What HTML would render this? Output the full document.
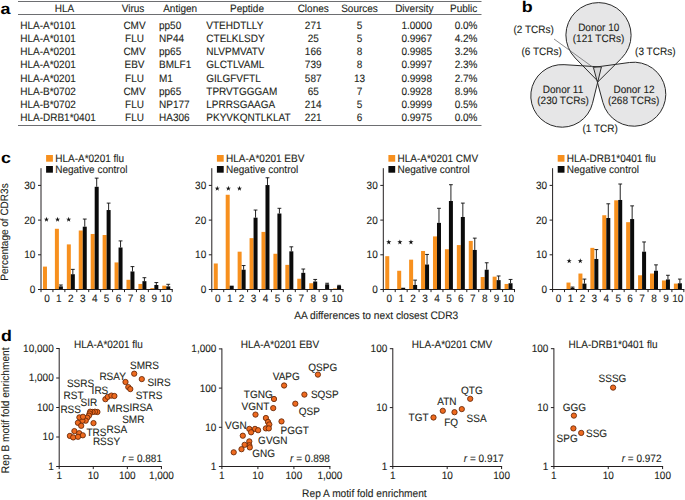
<!DOCTYPE html>
<html><head><meta charset="utf-8"><style>
html,body{margin:0;padding:0;background:#fff;width:685px;height:500px;overflow:hidden}
svg{display:block;font-family:"Liberation Sans",sans-serif;text-rendering:geometricPrecision}
</style></head><body>
<svg width="685" height="500" viewBox="0 0 685 500">
<rect width="685" height="500" fill="#fff"/>
<text transform="translate(0.50,14.20) scale(1.08,0.94)" font-size="16.5" text-anchor="start" font-weight="bold" fill="#000" >a</text>
<line x1="18.00" y1="1.50" x2="481.50" y2="1.50" stroke="#6d6e71" stroke-width="1"/>
<line x1="18.00" y1="14.50" x2="481.50" y2="14.50" stroke="#6d6e71" stroke-width="1"/>
<line x1="18.00" y1="125.50" x2="481.50" y2="125.50" stroke="#6d6e71" stroke-width="1"/>
<text transform="translate(64.40,11.80) scale(1,1.07)" font-size="10" text-anchor="middle" font-weight="normal" fill="#231f20" stroke="#231f20" stroke-width="0.1" >HLA</text>
<text transform="translate(133.00,11.80) scale(1,1.07)" font-size="10" text-anchor="middle" font-weight="normal" fill="#231f20" stroke="#231f20" stroke-width="0.1" >Virus</text>
<text transform="translate(163.20,11.80) scale(1,1.07)" font-size="10" text-anchor="start" font-weight="normal" fill="#231f20" stroke="#231f20" stroke-width="0.1" >Antigen</text>
<text transform="translate(247.00,11.80) scale(1,1.07)" font-size="10" text-anchor="middle" font-weight="normal" fill="#231f20" stroke="#231f20" stroke-width="0.1" >Peptide</text>
<text transform="translate(313.20,11.80) scale(1,1.07)" font-size="10" text-anchor="middle" font-weight="normal" fill="#231f20" stroke="#231f20" stroke-width="0.1" >Clones</text>
<text transform="translate(359.50,11.80) scale(1,1.07)" font-size="10" text-anchor="middle" font-weight="normal" fill="#231f20" stroke="#231f20" stroke-width="0.1" >Sources</text>
<text transform="translate(414.30,11.80) scale(1,1.07)" font-size="10" text-anchor="middle" font-weight="normal" fill="#231f20" stroke="#231f20" stroke-width="0.1" >Diversity</text>
<text transform="translate(463.60,11.80) scale(1,1.07)" font-size="10" text-anchor="middle" font-weight="normal" fill="#231f20" stroke="#231f20" stroke-width="0.1" >Public</text>
<text transform="translate(20.20,28.60) scale(1,1.07)" font-size="10" text-anchor="start" font-weight="normal" fill="#231f20" stroke="#231f20" stroke-width="0.1" >HLA-A*0101</text>
<text transform="translate(134.50,28.60) scale(1,1.07)" font-size="10" text-anchor="middle" font-weight="normal" fill="#231f20" stroke="#231f20" stroke-width="0.1" >CMV</text>
<text transform="translate(159.00,28.60) scale(1,1.07)" font-size="10" text-anchor="start" font-weight="normal" fill="#231f20" stroke="#231f20" stroke-width="0.1" >pp50</text>
<text transform="translate(206.30,28.60) scale(1,1.07)" font-size="10" text-anchor="start" font-weight="normal" fill="#231f20" stroke="#231f20" stroke-width="0.1" >VTEHDTLLY</text>
<text transform="translate(313.20,28.60) scale(1,1.07)" font-size="10" text-anchor="middle" font-weight="normal" fill="#231f20" stroke="#231f20" stroke-width="0.1" >271</text>
<text transform="translate(359.50,28.60) scale(1,1.07)" font-size="10" text-anchor="middle" font-weight="normal" fill="#231f20" stroke="#231f20" stroke-width="0.1" >5</text>
<text transform="translate(432.00,28.60) scale(1,1.07)" font-size="10" text-anchor="end" font-weight="normal" fill="#231f20" stroke="#231f20" stroke-width="0.1" >1.0000</text>
<text transform="translate(477.50,28.60) scale(1,1.07)" font-size="10" text-anchor="end" font-weight="normal" fill="#231f20" stroke="#231f20" stroke-width="0.1" >0.0%</text>
<text transform="translate(20.20,41.86) scale(1,1.07)" font-size="10" text-anchor="start" font-weight="normal" fill="#231f20" stroke="#231f20" stroke-width="0.1" >HLA-A*0101</text>
<text transform="translate(134.50,41.86) scale(1,1.07)" font-size="10" text-anchor="middle" font-weight="normal" fill="#231f20" stroke="#231f20" stroke-width="0.1" >FLU</text>
<text transform="translate(159.00,41.86) scale(1,1.07)" font-size="10" text-anchor="start" font-weight="normal" fill="#231f20" stroke="#231f20" stroke-width="0.1" >NP44</text>
<text transform="translate(206.30,41.86) scale(1,1.07)" font-size="10" text-anchor="start" font-weight="normal" fill="#231f20" stroke="#231f20" stroke-width="0.1" >CTELKLSDY</text>
<text transform="translate(313.20,41.86) scale(1,1.07)" font-size="10" text-anchor="middle" font-weight="normal" fill="#231f20" stroke="#231f20" stroke-width="0.1" >25</text>
<text transform="translate(359.50,41.86) scale(1,1.07)" font-size="10" text-anchor="middle" font-weight="normal" fill="#231f20" stroke="#231f20" stroke-width="0.1" >5</text>
<text transform="translate(432.00,41.86) scale(1,1.07)" font-size="10" text-anchor="end" font-weight="normal" fill="#231f20" stroke="#231f20" stroke-width="0.1" >0.9967</text>
<text transform="translate(477.50,41.86) scale(1,1.07)" font-size="10" text-anchor="end" font-weight="normal" fill="#231f20" stroke="#231f20" stroke-width="0.1" >4.2%</text>
<text transform="translate(20.20,55.12) scale(1,1.07)" font-size="10" text-anchor="start" font-weight="normal" fill="#231f20" stroke="#231f20" stroke-width="0.1" >HLA-A*0201</text>
<text transform="translate(134.50,55.12) scale(1,1.07)" font-size="10" text-anchor="middle" font-weight="normal" fill="#231f20" stroke="#231f20" stroke-width="0.1" >CMV</text>
<text transform="translate(159.00,55.12) scale(1,1.07)" font-size="10" text-anchor="start" font-weight="normal" fill="#231f20" stroke="#231f20" stroke-width="0.1" >pp65</text>
<text transform="translate(206.30,55.12) scale(1,1.07)" font-size="10" text-anchor="start" font-weight="normal" fill="#231f20" stroke="#231f20" stroke-width="0.1" >NLVPMVATV</text>
<text transform="translate(313.20,55.12) scale(1,1.07)" font-size="10" text-anchor="middle" font-weight="normal" fill="#231f20" stroke="#231f20" stroke-width="0.1" >166</text>
<text transform="translate(359.50,55.12) scale(1,1.07)" font-size="10" text-anchor="middle" font-weight="normal" fill="#231f20" stroke="#231f20" stroke-width="0.1" >8</text>
<text transform="translate(432.00,55.12) scale(1,1.07)" font-size="10" text-anchor="end" font-weight="normal" fill="#231f20" stroke="#231f20" stroke-width="0.1" >0.9985</text>
<text transform="translate(477.50,55.12) scale(1,1.07)" font-size="10" text-anchor="end" font-weight="normal" fill="#231f20" stroke="#231f20" stroke-width="0.1" >3.2%</text>
<text transform="translate(20.20,68.38) scale(1,1.07)" font-size="10" text-anchor="start" font-weight="normal" fill="#231f20" stroke="#231f20" stroke-width="0.1" >HLA-A*0201</text>
<text transform="translate(134.50,68.38) scale(1,1.07)" font-size="10" text-anchor="middle" font-weight="normal" fill="#231f20" stroke="#231f20" stroke-width="0.1" >EBV</text>
<text transform="translate(159.00,68.38) scale(1,1.07)" font-size="10" text-anchor="start" font-weight="normal" fill="#231f20" stroke="#231f20" stroke-width="0.1" >BMLF1</text>
<text transform="translate(206.30,68.38) scale(1,1.07)" font-size="10" text-anchor="start" font-weight="normal" fill="#231f20" stroke="#231f20" stroke-width="0.1" >GLCTLVAML</text>
<text transform="translate(313.20,68.38) scale(1,1.07)" font-size="10" text-anchor="middle" font-weight="normal" fill="#231f20" stroke="#231f20" stroke-width="0.1" >739</text>
<text transform="translate(359.50,68.38) scale(1,1.07)" font-size="10" text-anchor="middle" font-weight="normal" fill="#231f20" stroke="#231f20" stroke-width="0.1" >8</text>
<text transform="translate(432.00,68.38) scale(1,1.07)" font-size="10" text-anchor="end" font-weight="normal" fill="#231f20" stroke="#231f20" stroke-width="0.1" >0.9997</text>
<text transform="translate(477.50,68.38) scale(1,1.07)" font-size="10" text-anchor="end" font-weight="normal" fill="#231f20" stroke="#231f20" stroke-width="0.1" >2.3%</text>
<text transform="translate(20.20,81.64) scale(1,1.07)" font-size="10" text-anchor="start" font-weight="normal" fill="#231f20" stroke="#231f20" stroke-width="0.1" >HLA-A*0201</text>
<text transform="translate(134.50,81.64) scale(1,1.07)" font-size="10" text-anchor="middle" font-weight="normal" fill="#231f20" stroke="#231f20" stroke-width="0.1" >FLU</text>
<text transform="translate(159.00,81.64) scale(1,1.07)" font-size="10" text-anchor="start" font-weight="normal" fill="#231f20" stroke="#231f20" stroke-width="0.1" >M1</text>
<text transform="translate(206.30,81.64) scale(1,1.07)" font-size="10" text-anchor="start" font-weight="normal" fill="#231f20" stroke="#231f20" stroke-width="0.1" >GILGFVFTL</text>
<text transform="translate(313.20,81.64) scale(1,1.07)" font-size="10" text-anchor="middle" font-weight="normal" fill="#231f20" stroke="#231f20" stroke-width="0.1" >587</text>
<text transform="translate(359.50,81.64) scale(1,1.07)" font-size="10" text-anchor="middle" font-weight="normal" fill="#231f20" stroke="#231f20" stroke-width="0.1" >13</text>
<text transform="translate(432.00,81.64) scale(1,1.07)" font-size="10" text-anchor="end" font-weight="normal" fill="#231f20" stroke="#231f20" stroke-width="0.1" >0.9998</text>
<text transform="translate(477.50,81.64) scale(1,1.07)" font-size="10" text-anchor="end" font-weight="normal" fill="#231f20" stroke="#231f20" stroke-width="0.1" >2.7%</text>
<text transform="translate(20.20,94.90) scale(1,1.07)" font-size="10" text-anchor="start" font-weight="normal" fill="#231f20" stroke="#231f20" stroke-width="0.1" >HLA-B*0702</text>
<text transform="translate(134.50,94.90) scale(1,1.07)" font-size="10" text-anchor="middle" font-weight="normal" fill="#231f20" stroke="#231f20" stroke-width="0.1" >CMV</text>
<text transform="translate(159.00,94.90) scale(1,1.07)" font-size="10" text-anchor="start" font-weight="normal" fill="#231f20" stroke="#231f20" stroke-width="0.1" >pp65</text>
<text transform="translate(206.30,94.90) scale(1,1.07)" font-size="10" text-anchor="start" font-weight="normal" fill="#231f20" stroke="#231f20" stroke-width="0.1" >TPRVTGGGAM</text>
<text transform="translate(313.20,94.90) scale(1,1.07)" font-size="10" text-anchor="middle" font-weight="normal" fill="#231f20" stroke="#231f20" stroke-width="0.1" >65</text>
<text transform="translate(359.50,94.90) scale(1,1.07)" font-size="10" text-anchor="middle" font-weight="normal" fill="#231f20" stroke="#231f20" stroke-width="0.1" >7</text>
<text transform="translate(432.00,94.90) scale(1,1.07)" font-size="10" text-anchor="end" font-weight="normal" fill="#231f20" stroke="#231f20" stroke-width="0.1" >0.9928</text>
<text transform="translate(477.50,94.90) scale(1,1.07)" font-size="10" text-anchor="end" font-weight="normal" fill="#231f20" stroke="#231f20" stroke-width="0.1" >8.9%</text>
<text transform="translate(20.20,108.16) scale(1,1.07)" font-size="10" text-anchor="start" font-weight="normal" fill="#231f20" stroke="#231f20" stroke-width="0.1" >HLA-B*0702</text>
<text transform="translate(134.50,108.16) scale(1,1.07)" font-size="10" text-anchor="middle" font-weight="normal" fill="#231f20" stroke="#231f20" stroke-width="0.1" >FLU</text>
<text transform="translate(159.00,108.16) scale(1,1.07)" font-size="10" text-anchor="start" font-weight="normal" fill="#231f20" stroke="#231f20" stroke-width="0.1" >NP177</text>
<text transform="translate(206.30,108.16) scale(1,1.07)" font-size="10" text-anchor="start" font-weight="normal" fill="#231f20" stroke="#231f20" stroke-width="0.1" >LPRRSGAAGA</text>
<text transform="translate(313.20,108.16) scale(1,1.07)" font-size="10" text-anchor="middle" font-weight="normal" fill="#231f20" stroke="#231f20" stroke-width="0.1" >214</text>
<text transform="translate(359.50,108.16) scale(1,1.07)" font-size="10" text-anchor="middle" font-weight="normal" fill="#231f20" stroke="#231f20" stroke-width="0.1" >5</text>
<text transform="translate(432.00,108.16) scale(1,1.07)" font-size="10" text-anchor="end" font-weight="normal" fill="#231f20" stroke="#231f20" stroke-width="0.1" >0.9999</text>
<text transform="translate(477.50,108.16) scale(1,1.07)" font-size="10" text-anchor="end" font-weight="normal" fill="#231f20" stroke="#231f20" stroke-width="0.1" >0.5%</text>
<text transform="translate(20.20,121.42) scale(1,1.07)" font-size="10" text-anchor="start" font-weight="normal" fill="#231f20" stroke="#231f20" stroke-width="0.1" >HLA-DRB1*0401</text>
<text transform="translate(134.50,121.42) scale(1,1.07)" font-size="10" text-anchor="middle" font-weight="normal" fill="#231f20" stroke="#231f20" stroke-width="0.1" >FLU</text>
<text transform="translate(159.00,121.42) scale(1,1.07)" font-size="10" text-anchor="start" font-weight="normal" fill="#231f20" stroke="#231f20" stroke-width="0.1" >HA306</text>
<text transform="translate(206.30,121.42) scale(1,1.07)" font-size="10" text-anchor="start" font-weight="normal" fill="#231f20" stroke="#231f20" stroke-width="0.1" >PKYVKQNTLKLAT</text>
<text transform="translate(313.20,121.42) scale(1,1.07)" font-size="10" text-anchor="middle" font-weight="normal" fill="#231f20" stroke="#231f20" stroke-width="0.1" >221</text>
<text transform="translate(359.50,121.42) scale(1,1.07)" font-size="10" text-anchor="middle" font-weight="normal" fill="#231f20" stroke="#231f20" stroke-width="0.1" >6</text>
<text transform="translate(432.00,121.42) scale(1,1.07)" font-size="10" text-anchor="end" font-weight="normal" fill="#231f20" stroke="#231f20" stroke-width="0.1" >0.9975</text>
<text transform="translate(477.50,121.42) scale(1,1.07)" font-size="10" text-anchor="end" font-weight="normal" fill="#231f20" stroke="#231f20" stroke-width="0.1" >0.0%</text>
<text transform="translate(521.80,11.60) scale(1.08,0.94)" font-size="16.5" text-anchor="start" font-weight="bold" fill="#000" >b</text>
<path d="M598.20,81.50 L621.50,58.30 A32.6,32.6 0 1 0 575.20,58.00 Z" fill="#e6e6e7" stroke="none"/>
<path d="M601.40,67.00 L564.06,64.66 A31.3,31.3 0 1 0 592.50,103.34 Z" fill="#e6e6e7" stroke="none"/>
<path d="M593.40,67.40 L602.91,102.56 A32.0,32.0 0 1 0 629.49,62.49 Z" fill="#e6e6e7" stroke="none"/>
<polygon points="593.4,67.4 601.4,67.0 598.2,81.5" fill="#d6d6d7"/>
<path d="M598.20,81.50 L621.50,58.30 A32.6,32.6 0 1 0 575.20,58.00 Z" fill="none" stroke="#2a2a2a" stroke-width="1" stroke-linejoin="miter"/>
<path d="M601.40,67.00 L564.06,64.66 A31.3,31.3 0 1 0 592.50,103.34 Z" fill="none" stroke="#2a2a2a" stroke-width="1" stroke-linejoin="miter"/>
<path d="M593.40,67.40 L602.91,102.56 A32.0,32.0 0 1 0 629.49,62.49 Z" fill="none" stroke="#2a2a2a" stroke-width="1" stroke-linejoin="miter"/>
<line x1="554.00" y1="39.00" x2="593.00" y2="67.30" stroke="#6d6e71" stroke-width="0.8"/>
<text transform="translate(598.70,31.00) scale(1,1.07)" font-size="10" text-anchor="middle" font-weight="normal" fill="#231f20" stroke="#231f20" stroke-width="0.1" >Donor 10</text>
<text transform="translate(598.50,42.30) scale(1,1.07)" font-size="10" text-anchor="middle" font-weight="normal" fill="#231f20" stroke="#231f20" stroke-width="0.1" >(121 TCRs)</text>
<text transform="translate(563.00,92.90) scale(1,1.07)" font-size="10" text-anchor="middle" font-weight="normal" fill="#231f20" stroke="#231f20" stroke-width="0.1" >Donor 11</text>
<text transform="translate(563.00,103.90) scale(1,1.07)" font-size="10" text-anchor="middle" font-weight="normal" fill="#231f20" stroke="#231f20" stroke-width="0.1" >(230 TCRs)</text>
<text transform="translate(634.00,92.70) scale(1,1.07)" font-size="10" text-anchor="middle" font-weight="normal" fill="#231f20" stroke="#231f20" stroke-width="0.1" >Donor 12</text>
<text transform="translate(633.70,103.70) scale(1,1.07)" font-size="10" text-anchor="middle" font-weight="normal" fill="#231f20" stroke="#231f20" stroke-width="0.1" >(268 TCRs)</text>
<text transform="translate(600.20,132.40) scale(1,1.07)" font-size="10" text-anchor="middle" font-weight="normal" fill="#231f20" stroke="#231f20" stroke-width="0.1" >(1 TCR)</text>
<text transform="translate(533.70,33.20) scale(1,1.07)" font-size="10" text-anchor="middle" font-weight="normal" fill="#231f20" stroke="#231f20" stroke-width="0.1" >(2 TCRs)</text>
<text transform="translate(541.70,55.20) scale(1,1.07)" font-size="10" text-anchor="middle" font-weight="normal" fill="#231f20" stroke="#231f20" stroke-width="0.1" >(6 TCRs)</text>
<text transform="translate(655.30,55.40) scale(1,1.07)" font-size="10" text-anchor="middle" font-weight="normal" fill="#231f20" stroke="#231f20" stroke-width="0.1" >(3 TCRs)</text>
<text transform="translate(1.00,162.80) scale(1.08,0.94)" font-size="16.5" text-anchor="start" font-weight="bold" fill="#000" >c</text>
<rect x="42.97" y="266.60" width="4.00" height="22.90" fill="#f7901e"/>
<rect x="54.89" y="228.78" width="4.00" height="60.73" fill="#f7901e"/>
<rect x="58.89" y="286.38" width="4.00" height="3.12" fill="#0b0b0b"/>
<line x1="60.89" y1="284.99" x2="60.89" y2="286.38" stroke="#0b0b0b" stroke-width="0.9"/>
<line x1="58.99" y1="284.99" x2="62.79" y2="284.99" stroke="#0b0b0b" stroke-width="0.9"/>
<rect x="66.83" y="244.39" width="4.00" height="45.11" fill="#f7901e"/>
<rect x="70.83" y="274.23" width="4.00" height="15.27" fill="#0b0b0b"/>
<line x1="72.83" y1="269.37" x2="72.83" y2="274.23" stroke="#0b0b0b" stroke-width="0.9"/>
<line x1="70.92" y1="269.37" x2="74.73" y2="269.37" stroke="#0b0b0b" stroke-width="0.9"/>
<rect x="78.75" y="230.51" width="4.00" height="58.99" fill="#f7901e"/>
<rect x="82.75" y="226.69" width="4.00" height="62.81" fill="#0b0b0b"/>
<line x1="84.75" y1="219.06" x2="84.75" y2="226.69" stroke="#0b0b0b" stroke-width="0.9"/>
<line x1="82.85" y1="219.06" x2="86.66" y2="219.06" stroke="#0b0b0b" stroke-width="0.9"/>
<rect x="90.69" y="233.98" width="4.00" height="55.52" fill="#f7901e"/>
<rect x="94.69" y="186.79" width="4.00" height="102.71" fill="#0b0b0b"/>
<line x1="96.69" y1="178.11" x2="96.69" y2="186.79" stroke="#0b0b0b" stroke-width="0.9"/>
<line x1="94.78" y1="178.11" x2="98.59" y2="178.11" stroke="#0b0b0b" stroke-width="0.9"/>
<rect x="102.62" y="235.02" width="4.00" height="54.48" fill="#f7901e"/>
<rect x="106.62" y="210.04" width="4.00" height="79.46" fill="#0b0b0b"/>
<line x1="108.62" y1="203.10" x2="108.62" y2="210.04" stroke="#0b0b0b" stroke-width="0.9"/>
<line x1="106.72" y1="203.10" x2="110.52" y2="203.10" stroke="#0b0b0b" stroke-width="0.9"/>
<rect x="114.55" y="262.43" width="4.00" height="27.07" fill="#f7901e"/>
<rect x="118.55" y="247.51" width="4.00" height="41.99" fill="#0b0b0b"/>
<line x1="120.55" y1="240.92" x2="120.55" y2="247.51" stroke="#0b0b0b" stroke-width="0.9"/>
<line x1="118.64" y1="240.92" x2="122.45" y2="240.92" stroke="#0b0b0b" stroke-width="0.9"/>
<rect x="126.47" y="279.78" width="4.00" height="9.72" fill="#f7901e"/>
<rect x="130.47" y="271.46" width="4.00" height="18.04" fill="#0b0b0b"/>
<line x1="132.47" y1="266.60" x2="132.47" y2="271.46" stroke="#0b0b0b" stroke-width="0.9"/>
<line x1="130.57" y1="266.60" x2="134.38" y2="266.60" stroke="#0b0b0b" stroke-width="0.9"/>
<rect x="138.41" y="283.95" width="4.00" height="5.55" fill="#f7901e"/>
<rect x="142.41" y="281.17" width="4.00" height="8.33" fill="#0b0b0b"/>
<line x1="144.41" y1="277.70" x2="144.41" y2="281.17" stroke="#0b0b0b" stroke-width="0.9"/>
<line x1="142.50" y1="277.70" x2="146.31" y2="277.70" stroke="#0b0b0b" stroke-width="0.9"/>
<rect x="150.34" y="288.11" width="4.00" height="1.39" fill="#f7901e"/>
<rect x="154.34" y="284.99" width="4.00" height="4.51" fill="#0b0b0b"/>
<line x1="156.34" y1="282.56" x2="156.34" y2="284.99" stroke="#0b0b0b" stroke-width="0.9"/>
<line x1="154.44" y1="282.56" x2="158.24" y2="282.56" stroke="#0b0b0b" stroke-width="0.9"/>
<rect x="162.27" y="285.68" width="4.00" height="3.82" fill="#f7901e"/>
<rect x="166.27" y="286.38" width="4.00" height="3.12" fill="#0b0b0b"/>
<line x1="168.27" y1="284.30" x2="168.27" y2="286.38" stroke="#0b0b0b" stroke-width="0.9"/>
<line x1="166.37" y1="284.30" x2="170.17" y2="284.30" stroke="#0b0b0b" stroke-width="0.9"/>
<line x1="41.00" y1="168.20" x2="41.00" y2="290.00" stroke="#231f20" stroke-width="1"/>
<line x1="40.50" y1="289.50" x2="172.73" y2="289.50" stroke="#231f20" stroke-width="1"/>
<line x1="41.00" y1="289.50" x2="41.00" y2="292.10" stroke="#231f20" stroke-width="1"/>
<line x1="52.93" y1="289.50" x2="52.93" y2="292.10" stroke="#231f20" stroke-width="1"/>
<line x1="64.86" y1="289.50" x2="64.86" y2="292.10" stroke="#231f20" stroke-width="1"/>
<line x1="76.79" y1="289.50" x2="76.79" y2="292.10" stroke="#231f20" stroke-width="1"/>
<line x1="88.72" y1="289.50" x2="88.72" y2="292.10" stroke="#231f20" stroke-width="1"/>
<line x1="100.65" y1="289.50" x2="100.65" y2="292.10" stroke="#231f20" stroke-width="1"/>
<line x1="112.58" y1="289.50" x2="112.58" y2="292.10" stroke="#231f20" stroke-width="1"/>
<line x1="124.51" y1="289.50" x2="124.51" y2="292.10" stroke="#231f20" stroke-width="1"/>
<line x1="136.44" y1="289.50" x2="136.44" y2="292.10" stroke="#231f20" stroke-width="1"/>
<line x1="148.37" y1="289.50" x2="148.37" y2="292.10" stroke="#231f20" stroke-width="1"/>
<line x1="160.30" y1="289.50" x2="160.30" y2="292.10" stroke="#231f20" stroke-width="1"/>
<line x1="172.23" y1="289.50" x2="172.23" y2="292.10" stroke="#231f20" stroke-width="1"/>
<line x1="38.00" y1="289.50" x2="41.00" y2="289.50" stroke="#231f20" stroke-width="1"/>
<text transform="translate(35.40,292.90) scale(1,1.07)" font-size="10" text-anchor="end" font-weight="normal" fill="#231f20" stroke="#231f20" stroke-width="0.1" >0</text>
<line x1="38.00" y1="254.80" x2="41.00" y2="254.80" stroke="#231f20" stroke-width="1"/>
<text transform="translate(35.40,258.20) scale(1,1.07)" font-size="10" text-anchor="end" font-weight="normal" fill="#231f20" stroke="#231f20" stroke-width="0.1" >10</text>
<line x1="38.00" y1="220.10" x2="41.00" y2="220.10" stroke="#231f20" stroke-width="1"/>
<text transform="translate(35.40,223.50) scale(1,1.07)" font-size="10" text-anchor="end" font-weight="normal" fill="#231f20" stroke="#231f20" stroke-width="0.1" >20</text>
<line x1="38.00" y1="185.40" x2="41.00" y2="185.40" stroke="#231f20" stroke-width="1"/>
<text transform="translate(35.40,188.80) scale(1,1.07)" font-size="10" text-anchor="end" font-weight="normal" fill="#231f20" stroke="#231f20" stroke-width="0.1" >30</text>
<text transform="translate(46.97,302.40) scale(1,1.07)" font-size="10" text-anchor="middle" font-weight="normal" fill="#231f20" stroke="#231f20" stroke-width="0.1" >0</text>
<text transform="translate(58.89,302.40) scale(1,1.07)" font-size="10" text-anchor="middle" font-weight="normal" fill="#231f20" stroke="#231f20" stroke-width="0.1" >1</text>
<text transform="translate(70.83,302.40) scale(1,1.07)" font-size="10" text-anchor="middle" font-weight="normal" fill="#231f20" stroke="#231f20" stroke-width="0.1" >2</text>
<text transform="translate(82.75,302.40) scale(1,1.07)" font-size="10" text-anchor="middle" font-weight="normal" fill="#231f20" stroke="#231f20" stroke-width="0.1" >3</text>
<text transform="translate(94.69,302.40) scale(1,1.07)" font-size="10" text-anchor="middle" font-weight="normal" fill="#231f20" stroke="#231f20" stroke-width="0.1" >4</text>
<text transform="translate(106.62,302.40) scale(1,1.07)" font-size="10" text-anchor="middle" font-weight="normal" fill="#231f20" stroke="#231f20" stroke-width="0.1" >5</text>
<text transform="translate(118.55,302.40) scale(1,1.07)" font-size="10" text-anchor="middle" font-weight="normal" fill="#231f20" stroke="#231f20" stroke-width="0.1" >6</text>
<text transform="translate(130.47,302.40) scale(1,1.07)" font-size="10" text-anchor="middle" font-weight="normal" fill="#231f20" stroke="#231f20" stroke-width="0.1" >7</text>
<text transform="translate(142.41,302.40) scale(1,1.07)" font-size="10" text-anchor="middle" font-weight="normal" fill="#231f20" stroke="#231f20" stroke-width="0.1" >8</text>
<text transform="translate(154.34,302.40) scale(1,1.07)" font-size="10" text-anchor="middle" font-weight="normal" fill="#231f20" stroke="#231f20" stroke-width="0.1" >9</text>
<text transform="translate(166.27,302.40) scale(1,1.07)" font-size="10" text-anchor="middle" font-weight="normal" fill="#231f20" stroke="#231f20" stroke-width="0.1" >10</text>
<polygon points="46.47,216.80 47.08,218.65 49.03,218.67 47.46,219.82 48.05,221.68 46.47,220.55 44.88,221.68 45.47,219.82 43.90,218.67 45.85,218.65" fill="#111"/>
<polygon points="57.57,216.80 58.18,218.65 60.13,218.67 58.56,219.82 59.15,221.68 57.57,220.55 55.98,221.68 56.57,219.82 55.00,218.67 56.95,218.65" fill="#111"/>
<polygon points="68.67,216.80 69.28,218.65 71.23,218.67 69.66,219.82 70.25,221.68 68.67,220.55 67.08,221.68 67.67,219.82 66.10,218.67 68.05,218.65" fill="#111"/>
<rect x="46.10" y="155.00" width="6.80" height="6.70" fill="#f7901e"/>
<rect x="46.10" y="166.00" width="6.80" height="6.70" fill="#0b0b0b"/>
<text transform="translate(55.20,162.00) scale(1,1.07)" font-size="10" text-anchor="start" font-weight="normal" fill="#231f20" stroke="#231f20" stroke-width="0.1" >HLA-A*0201 flu</text>
<text transform="translate(55.20,173.20) scale(1,1.07)" font-size="10" text-anchor="start" font-weight="normal" fill="#231f20" stroke="#231f20" stroke-width="0.1" >Negative control</text>
<rect x="213.77" y="263.48" width="4.00" height="26.03" fill="#f7901e"/>
<rect x="225.70" y="194.77" width="4.00" height="94.73" fill="#f7901e"/>
<rect x="229.70" y="285.68" width="4.00" height="3.82" fill="#0b0b0b"/>
<rect x="237.63" y="251.68" width="4.00" height="37.82" fill="#f7901e"/>
<rect x="241.63" y="269.72" width="4.00" height="19.78" fill="#0b0b0b"/>
<line x1="243.63" y1="265.56" x2="243.63" y2="269.72" stroke="#0b0b0b" stroke-width="0.9"/>
<line x1="241.73" y1="265.56" x2="245.53" y2="265.56" stroke="#0b0b0b" stroke-width="0.9"/>
<rect x="249.56" y="238.14" width="4.00" height="51.36" fill="#f7901e"/>
<rect x="253.56" y="217.67" width="4.00" height="71.83" fill="#0b0b0b"/>
<line x1="255.56" y1="210.04" x2="255.56" y2="217.67" stroke="#0b0b0b" stroke-width="0.9"/>
<line x1="253.66" y1="210.04" x2="257.45" y2="210.04" stroke="#0b0b0b" stroke-width="0.9"/>
<rect x="261.48" y="231.90" width="4.00" height="57.60" fill="#f7901e"/>
<rect x="265.48" y="185.05" width="4.00" height="104.45" fill="#0b0b0b"/>
<line x1="267.48" y1="177.77" x2="267.48" y2="185.05" stroke="#0b0b0b" stroke-width="0.9"/>
<line x1="265.58" y1="177.77" x2="269.38" y2="177.77" stroke="#0b0b0b" stroke-width="0.9"/>
<rect x="273.41" y="253.76" width="4.00" height="35.74" fill="#f7901e"/>
<rect x="277.41" y="213.51" width="4.00" height="75.99" fill="#0b0b0b"/>
<line x1="279.41" y1="208.30" x2="279.41" y2="213.51" stroke="#0b0b0b" stroke-width="0.9"/>
<line x1="277.51" y1="208.30" x2="281.31" y2="208.30" stroke="#0b0b0b" stroke-width="0.9"/>
<rect x="285.34" y="264.86" width="4.00" height="24.64" fill="#f7901e"/>
<rect x="289.34" y="251.33" width="4.00" height="38.17" fill="#0b0b0b"/>
<line x1="291.34" y1="246.82" x2="291.34" y2="251.33" stroke="#0b0b0b" stroke-width="0.9"/>
<line x1="289.44" y1="246.82" x2="293.24" y2="246.82" stroke="#0b0b0b" stroke-width="0.9"/>
<rect x="297.27" y="278.74" width="4.00" height="10.76" fill="#f7901e"/>
<rect x="301.27" y="272.84" width="4.00" height="16.66" fill="#0b0b0b"/>
<line x1="303.27" y1="269.03" x2="303.27" y2="272.84" stroke="#0b0b0b" stroke-width="0.9"/>
<line x1="301.38" y1="269.03" x2="305.17" y2="269.03" stroke="#0b0b0b" stroke-width="0.9"/>
<rect x="309.20" y="283.25" width="4.00" height="6.25" fill="#f7901e"/>
<rect x="313.20" y="281.52" width="4.00" height="7.98" fill="#0b0b0b"/>
<line x1="315.20" y1="279.44" x2="315.20" y2="281.52" stroke="#0b0b0b" stroke-width="0.9"/>
<line x1="313.31" y1="279.44" x2="317.10" y2="279.44" stroke="#0b0b0b" stroke-width="0.9"/>
<rect x="325.13" y="284.30" width="4.00" height="5.21" fill="#0b0b0b"/>
<line x1="327.13" y1="283.25" x2="327.13" y2="284.30" stroke="#0b0b0b" stroke-width="0.9"/>
<line x1="325.24" y1="283.25" x2="329.03" y2="283.25" stroke="#0b0b0b" stroke-width="0.9"/>
<rect x="333.06" y="288.46" width="4.00" height="1.04" fill="#f7901e"/>
<rect x="337.06" y="286.03" width="4.00" height="3.47" fill="#0b0b0b"/>
<line x1="339.06" y1="285.34" x2="339.06" y2="286.03" stroke="#0b0b0b" stroke-width="0.9"/>
<line x1="337.17" y1="285.34" x2="340.96" y2="285.34" stroke="#0b0b0b" stroke-width="0.9"/>
<line x1="211.80" y1="168.20" x2="211.80" y2="290.00" stroke="#231f20" stroke-width="1"/>
<line x1="211.30" y1="289.50" x2="343.53" y2="289.50" stroke="#231f20" stroke-width="1"/>
<line x1="211.80" y1="289.50" x2="211.80" y2="292.10" stroke="#231f20" stroke-width="1"/>
<line x1="223.73" y1="289.50" x2="223.73" y2="292.10" stroke="#231f20" stroke-width="1"/>
<line x1="235.66" y1="289.50" x2="235.66" y2="292.10" stroke="#231f20" stroke-width="1"/>
<line x1="247.59" y1="289.50" x2="247.59" y2="292.10" stroke="#231f20" stroke-width="1"/>
<line x1="259.52" y1="289.50" x2="259.52" y2="292.10" stroke="#231f20" stroke-width="1"/>
<line x1="271.45" y1="289.50" x2="271.45" y2="292.10" stroke="#231f20" stroke-width="1"/>
<line x1="283.38" y1="289.50" x2="283.38" y2="292.10" stroke="#231f20" stroke-width="1"/>
<line x1="295.31" y1="289.50" x2="295.31" y2="292.10" stroke="#231f20" stroke-width="1"/>
<line x1="307.24" y1="289.50" x2="307.24" y2="292.10" stroke="#231f20" stroke-width="1"/>
<line x1="319.17" y1="289.50" x2="319.17" y2="292.10" stroke="#231f20" stroke-width="1"/>
<line x1="331.10" y1="289.50" x2="331.10" y2="292.10" stroke="#231f20" stroke-width="1"/>
<line x1="343.03" y1="289.50" x2="343.03" y2="292.10" stroke="#231f20" stroke-width="1"/>
<line x1="208.80" y1="289.50" x2="211.80" y2="289.50" stroke="#231f20" stroke-width="1"/>
<text transform="translate(206.20,292.90) scale(1,1.07)" font-size="10" text-anchor="end" font-weight="normal" fill="#231f20" stroke="#231f20" stroke-width="0.1" >0</text>
<line x1="208.80" y1="254.80" x2="211.80" y2="254.80" stroke="#231f20" stroke-width="1"/>
<text transform="translate(206.20,258.20) scale(1,1.07)" font-size="10" text-anchor="end" font-weight="normal" fill="#231f20" stroke="#231f20" stroke-width="0.1" >10</text>
<line x1="208.80" y1="220.10" x2="211.80" y2="220.10" stroke="#231f20" stroke-width="1"/>
<text transform="translate(206.20,223.50) scale(1,1.07)" font-size="10" text-anchor="end" font-weight="normal" fill="#231f20" stroke="#231f20" stroke-width="0.1" >20</text>
<line x1="208.80" y1="185.40" x2="211.80" y2="185.40" stroke="#231f20" stroke-width="1"/>
<text transform="translate(206.20,188.80) scale(1,1.07)" font-size="10" text-anchor="end" font-weight="normal" fill="#231f20" stroke="#231f20" stroke-width="0.1" >30</text>
<text transform="translate(217.77,302.40) scale(1,1.07)" font-size="10" text-anchor="middle" font-weight="normal" fill="#231f20" stroke="#231f20" stroke-width="0.1" >0</text>
<text transform="translate(229.70,302.40) scale(1,1.07)" font-size="10" text-anchor="middle" font-weight="normal" fill="#231f20" stroke="#231f20" stroke-width="0.1" >1</text>
<text transform="translate(241.63,302.40) scale(1,1.07)" font-size="10" text-anchor="middle" font-weight="normal" fill="#231f20" stroke="#231f20" stroke-width="0.1" >2</text>
<text transform="translate(253.56,302.40) scale(1,1.07)" font-size="10" text-anchor="middle" font-weight="normal" fill="#231f20" stroke="#231f20" stroke-width="0.1" >3</text>
<text transform="translate(265.48,302.40) scale(1,1.07)" font-size="10" text-anchor="middle" font-weight="normal" fill="#231f20" stroke="#231f20" stroke-width="0.1" >4</text>
<text transform="translate(277.41,302.40) scale(1,1.07)" font-size="10" text-anchor="middle" font-weight="normal" fill="#231f20" stroke="#231f20" stroke-width="0.1" >5</text>
<text transform="translate(289.34,302.40) scale(1,1.07)" font-size="10" text-anchor="middle" font-weight="normal" fill="#231f20" stroke="#231f20" stroke-width="0.1" >6</text>
<text transform="translate(301.27,302.40) scale(1,1.07)" font-size="10" text-anchor="middle" font-weight="normal" fill="#231f20" stroke="#231f20" stroke-width="0.1" >7</text>
<text transform="translate(313.20,302.40) scale(1,1.07)" font-size="10" text-anchor="middle" font-weight="normal" fill="#231f20" stroke="#231f20" stroke-width="0.1" >8</text>
<text transform="translate(325.13,302.40) scale(1,1.07)" font-size="10" text-anchor="middle" font-weight="normal" fill="#231f20" stroke="#231f20" stroke-width="0.1" >9</text>
<text transform="translate(337.06,302.40) scale(1,1.07)" font-size="10" text-anchor="middle" font-weight="normal" fill="#231f20" stroke="#231f20" stroke-width="0.1" >10</text>
<polygon points="217.27,185.80 217.88,187.65 219.83,187.67 218.26,188.82 218.85,190.68 217.27,189.55 215.68,190.68 216.27,188.82 214.70,187.67 216.65,187.65" fill="#111"/>
<polygon points="228.37,185.80 228.98,187.65 230.93,187.67 229.36,188.82 229.95,190.68 228.37,189.55 226.78,190.68 227.37,188.82 225.80,187.67 227.75,187.65" fill="#111"/>
<polygon points="239.47,185.80 240.08,187.65 242.03,187.67 240.46,188.82 241.05,190.68 239.47,189.55 237.88,190.68 238.47,188.82 236.90,187.67 238.85,187.65" fill="#111"/>
<rect x="216.90" y="155.00" width="6.80" height="6.70" fill="#f7901e"/>
<rect x="216.90" y="166.00" width="6.80" height="6.70" fill="#0b0b0b"/>
<text transform="translate(226.00,162.00) scale(1,1.07)" font-size="10" text-anchor="start" font-weight="normal" fill="#231f20" stroke="#231f20" stroke-width="0.1" >HLA-A*0201 EBV</text>
<text transform="translate(226.00,173.20) scale(1,1.07)" font-size="10" text-anchor="start" font-weight="normal" fill="#231f20" stroke="#231f20" stroke-width="0.1" >Negative control</text>
<rect x="385.26" y="256.19" width="4.00" height="33.31" fill="#f7901e"/>
<rect x="397.19" y="270.76" width="4.00" height="18.74" fill="#f7901e"/>
<rect x="401.19" y="287.76" width="4.00" height="1.74" fill="#0b0b0b"/>
<rect x="409.12" y="259.66" width="4.00" height="29.84" fill="#f7901e"/>
<rect x="413.12" y="284.99" width="4.00" height="4.51" fill="#0b0b0b"/>
<line x1="415.12" y1="280.13" x2="415.12" y2="284.99" stroke="#0b0b0b" stroke-width="0.9"/>
<line x1="413.23" y1="280.13" x2="417.02" y2="280.13" stroke="#0b0b0b" stroke-width="0.9"/>
<rect x="421.06" y="250.98" width="4.00" height="38.52" fill="#f7901e"/>
<rect x="425.06" y="264.52" width="4.00" height="24.98" fill="#0b0b0b"/>
<line x1="427.06" y1="254.45" x2="427.06" y2="264.52" stroke="#0b0b0b" stroke-width="0.9"/>
<line x1="425.16" y1="254.45" x2="428.95" y2="254.45" stroke="#0b0b0b" stroke-width="0.9"/>
<rect x="432.98" y="236.41" width="4.00" height="53.09" fill="#f7901e"/>
<rect x="436.98" y="222.88" width="4.00" height="66.62" fill="#0b0b0b"/>
<line x1="438.98" y1="208.30" x2="438.98" y2="222.88" stroke="#0b0b0b" stroke-width="0.9"/>
<line x1="437.08" y1="208.30" x2="440.88" y2="208.30" stroke="#0b0b0b" stroke-width="0.9"/>
<rect x="444.91" y="249.25" width="4.00" height="40.25" fill="#f7901e"/>
<rect x="448.91" y="201.01" width="4.00" height="88.48" fill="#0b0b0b"/>
<line x1="450.91" y1="184.71" x2="450.91" y2="201.01" stroke="#0b0b0b" stroke-width="0.9"/>
<line x1="449.01" y1="184.71" x2="452.81" y2="184.71" stroke="#0b0b0b" stroke-width="0.9"/>
<rect x="456.84" y="245.08" width="4.00" height="44.42" fill="#f7901e"/>
<rect x="460.84" y="216.98" width="4.00" height="72.52" fill="#0b0b0b"/>
<line x1="462.84" y1="203.10" x2="462.84" y2="216.98" stroke="#0b0b0b" stroke-width="0.9"/>
<line x1="460.94" y1="203.10" x2="464.74" y2="203.10" stroke="#0b0b0b" stroke-width="0.9"/>
<rect x="468.77" y="240.92" width="4.00" height="48.58" fill="#f7901e"/>
<rect x="472.77" y="249.94" width="4.00" height="39.56" fill="#0b0b0b"/>
<line x1="474.77" y1="238.14" x2="474.77" y2="249.94" stroke="#0b0b0b" stroke-width="0.9"/>
<line x1="472.88" y1="238.14" x2="476.67" y2="238.14" stroke="#0b0b0b" stroke-width="0.9"/>
<rect x="480.70" y="277.01" width="4.00" height="12.49" fill="#f7901e"/>
<rect x="484.70" y="269.72" width="4.00" height="19.78" fill="#0b0b0b"/>
<line x1="486.70" y1="262.78" x2="486.70" y2="269.72" stroke="#0b0b0b" stroke-width="0.9"/>
<line x1="484.81" y1="262.78" x2="488.60" y2="262.78" stroke="#0b0b0b" stroke-width="0.9"/>
<rect x="492.63" y="276.66" width="4.00" height="12.84" fill="#f7901e"/>
<rect x="496.63" y="280.13" width="4.00" height="9.37" fill="#0b0b0b"/>
<line x1="498.63" y1="275.97" x2="498.63" y2="280.13" stroke="#0b0b0b" stroke-width="0.9"/>
<line x1="496.74" y1="275.97" x2="500.53" y2="275.97" stroke="#0b0b0b" stroke-width="0.9"/>
<rect x="504.56" y="283.95" width="4.00" height="5.55" fill="#f7901e"/>
<rect x="508.56" y="283.25" width="4.00" height="6.25" fill="#0b0b0b"/>
<line x1="510.56" y1="279.44" x2="510.56" y2="283.25" stroke="#0b0b0b" stroke-width="0.9"/>
<line x1="508.67" y1="279.44" x2="512.47" y2="279.44" stroke="#0b0b0b" stroke-width="0.9"/>
<line x1="383.30" y1="168.20" x2="383.30" y2="290.00" stroke="#231f20" stroke-width="1"/>
<line x1="382.80" y1="289.50" x2="515.03" y2="289.50" stroke="#231f20" stroke-width="1"/>
<line x1="383.30" y1="289.50" x2="383.30" y2="292.10" stroke="#231f20" stroke-width="1"/>
<line x1="395.23" y1="289.50" x2="395.23" y2="292.10" stroke="#231f20" stroke-width="1"/>
<line x1="407.16" y1="289.50" x2="407.16" y2="292.10" stroke="#231f20" stroke-width="1"/>
<line x1="419.09" y1="289.50" x2="419.09" y2="292.10" stroke="#231f20" stroke-width="1"/>
<line x1="431.02" y1="289.50" x2="431.02" y2="292.10" stroke="#231f20" stroke-width="1"/>
<line x1="442.95" y1="289.50" x2="442.95" y2="292.10" stroke="#231f20" stroke-width="1"/>
<line x1="454.88" y1="289.50" x2="454.88" y2="292.10" stroke="#231f20" stroke-width="1"/>
<line x1="466.81" y1="289.50" x2="466.81" y2="292.10" stroke="#231f20" stroke-width="1"/>
<line x1="478.74" y1="289.50" x2="478.74" y2="292.10" stroke="#231f20" stroke-width="1"/>
<line x1="490.67" y1="289.50" x2="490.67" y2="292.10" stroke="#231f20" stroke-width="1"/>
<line x1="502.60" y1="289.50" x2="502.60" y2="292.10" stroke="#231f20" stroke-width="1"/>
<line x1="514.53" y1="289.50" x2="514.53" y2="292.10" stroke="#231f20" stroke-width="1"/>
<line x1="380.30" y1="289.50" x2="383.30" y2="289.50" stroke="#231f20" stroke-width="1"/>
<text transform="translate(377.70,292.90) scale(1,1.07)" font-size="10" text-anchor="end" font-weight="normal" fill="#231f20" stroke="#231f20" stroke-width="0.1" >0</text>
<line x1="380.30" y1="254.80" x2="383.30" y2="254.80" stroke="#231f20" stroke-width="1"/>
<text transform="translate(377.70,258.20) scale(1,1.07)" font-size="10" text-anchor="end" font-weight="normal" fill="#231f20" stroke="#231f20" stroke-width="0.1" >10</text>
<line x1="380.30" y1="220.10" x2="383.30" y2="220.10" stroke="#231f20" stroke-width="1"/>
<text transform="translate(377.70,223.50) scale(1,1.07)" font-size="10" text-anchor="end" font-weight="normal" fill="#231f20" stroke="#231f20" stroke-width="0.1" >20</text>
<line x1="380.30" y1="185.40" x2="383.30" y2="185.40" stroke="#231f20" stroke-width="1"/>
<text transform="translate(377.70,188.80) scale(1,1.07)" font-size="10" text-anchor="end" font-weight="normal" fill="#231f20" stroke="#231f20" stroke-width="0.1" >30</text>
<text transform="translate(389.26,302.40) scale(1,1.07)" font-size="10" text-anchor="middle" font-weight="normal" fill="#231f20" stroke="#231f20" stroke-width="0.1" >0</text>
<text transform="translate(401.19,302.40) scale(1,1.07)" font-size="10" text-anchor="middle" font-weight="normal" fill="#231f20" stroke="#231f20" stroke-width="0.1" >1</text>
<text transform="translate(413.12,302.40) scale(1,1.07)" font-size="10" text-anchor="middle" font-weight="normal" fill="#231f20" stroke="#231f20" stroke-width="0.1" >2</text>
<text transform="translate(425.06,302.40) scale(1,1.07)" font-size="10" text-anchor="middle" font-weight="normal" fill="#231f20" stroke="#231f20" stroke-width="0.1" >3</text>
<text transform="translate(436.98,302.40) scale(1,1.07)" font-size="10" text-anchor="middle" font-weight="normal" fill="#231f20" stroke="#231f20" stroke-width="0.1" >4</text>
<text transform="translate(448.91,302.40) scale(1,1.07)" font-size="10" text-anchor="middle" font-weight="normal" fill="#231f20" stroke="#231f20" stroke-width="0.1" >5</text>
<text transform="translate(460.84,302.40) scale(1,1.07)" font-size="10" text-anchor="middle" font-weight="normal" fill="#231f20" stroke="#231f20" stroke-width="0.1" >6</text>
<text transform="translate(472.77,302.40) scale(1,1.07)" font-size="10" text-anchor="middle" font-weight="normal" fill="#231f20" stroke="#231f20" stroke-width="0.1" >7</text>
<text transform="translate(484.70,302.40) scale(1,1.07)" font-size="10" text-anchor="middle" font-weight="normal" fill="#231f20" stroke="#231f20" stroke-width="0.1" >8</text>
<text transform="translate(496.63,302.40) scale(1,1.07)" font-size="10" text-anchor="middle" font-weight="normal" fill="#231f20" stroke="#231f20" stroke-width="0.1" >9</text>
<text transform="translate(508.56,302.40) scale(1,1.07)" font-size="10" text-anchor="middle" font-weight="normal" fill="#231f20" stroke="#231f20" stroke-width="0.1" >10</text>
<polygon points="388.76,239.50 389.38,241.35 391.33,241.37 389.76,242.52 390.35,244.38 388.76,243.25 387.18,244.38 387.77,242.52 386.20,241.37 388.15,241.35" fill="#111"/>
<polygon points="399.87,239.50 400.48,241.35 402.43,241.37 400.86,242.52 401.45,244.38 399.87,243.25 398.28,244.38 398.87,242.52 397.30,241.37 399.25,241.35" fill="#111"/>
<polygon points="410.96,239.50 411.58,241.35 413.53,241.37 411.96,242.52 412.55,244.38 410.96,243.25 409.38,244.38 409.97,242.52 408.40,241.37 410.35,241.35" fill="#111"/>
<rect x="388.40" y="155.00" width="6.80" height="6.70" fill="#f7901e"/>
<rect x="388.40" y="166.00" width="6.80" height="6.70" fill="#0b0b0b"/>
<text transform="translate(397.50,162.00) scale(1,1.07)" font-size="10" text-anchor="start" font-weight="normal" fill="#231f20" stroke="#231f20" stroke-width="0.1" >HLA-A*0201 CMV</text>
<text transform="translate(397.50,173.20) scale(1,1.07)" font-size="10" text-anchor="start" font-weight="normal" fill="#231f20" stroke="#231f20" stroke-width="0.1" >Negative control</text>
<rect x="566.50" y="282.56" width="4.00" height="6.94" fill="#f7901e"/>
<rect x="570.50" y="287.76" width="4.00" height="1.74" fill="#0b0b0b"/>
<line x1="572.50" y1="287.07" x2="572.50" y2="287.76" stroke="#0b0b0b" stroke-width="0.9"/>
<line x1="570.60" y1="287.07" x2="574.39" y2="287.07" stroke="#0b0b0b" stroke-width="0.9"/>
<rect x="578.43" y="273.54" width="4.00" height="15.96" fill="#f7901e"/>
<rect x="582.43" y="283.60" width="4.00" height="5.90" fill="#0b0b0b"/>
<line x1="584.43" y1="279.09" x2="584.43" y2="283.60" stroke="#0b0b0b" stroke-width="0.9"/>
<line x1="582.53" y1="279.09" x2="586.33" y2="279.09" stroke="#0b0b0b" stroke-width="0.9"/>
<rect x="590.36" y="247.86" width="4.00" height="41.64" fill="#f7901e"/>
<rect x="594.36" y="258.96" width="4.00" height="30.54" fill="#0b0b0b"/>
<line x1="596.36" y1="249.59" x2="596.36" y2="258.96" stroke="#0b0b0b" stroke-width="0.9"/>
<line x1="594.46" y1="249.59" x2="598.25" y2="249.59" stroke="#0b0b0b" stroke-width="0.9"/>
<rect x="602.29" y="215.24" width="4.00" height="74.26" fill="#f7901e"/>
<rect x="606.29" y="218.02" width="4.00" height="71.48" fill="#0b0b0b"/>
<line x1="608.29" y1="203.79" x2="608.29" y2="218.02" stroke="#0b0b0b" stroke-width="0.9"/>
<line x1="606.39" y1="203.79" x2="610.19" y2="203.79" stroke="#0b0b0b" stroke-width="0.9"/>
<rect x="614.22" y="200.32" width="4.00" height="89.18" fill="#f7901e"/>
<rect x="618.22" y="199.97" width="4.00" height="89.53" fill="#0b0b0b"/>
<line x1="620.22" y1="184.01" x2="620.22" y2="199.97" stroke="#0b0b0b" stroke-width="0.9"/>
<line x1="618.32" y1="184.01" x2="622.12" y2="184.01" stroke="#0b0b0b" stroke-width="0.9"/>
<rect x="626.15" y="222.18" width="4.00" height="67.32" fill="#f7901e"/>
<rect x="630.15" y="219.06" width="4.00" height="70.44" fill="#0b0b0b"/>
<line x1="632.15" y1="205.87" x2="632.15" y2="219.06" stroke="#0b0b0b" stroke-width="0.9"/>
<line x1="630.25" y1="205.87" x2="634.05" y2="205.87" stroke="#0b0b0b" stroke-width="0.9"/>
<rect x="638.08" y="275.27" width="4.00" height="14.23" fill="#f7901e"/>
<rect x="642.08" y="251.68" width="4.00" height="37.82" fill="#0b0b0b"/>
<line x1="644.08" y1="241.96" x2="644.08" y2="251.68" stroke="#0b0b0b" stroke-width="0.9"/>
<line x1="642.18" y1="241.96" x2="645.98" y2="241.96" stroke="#0b0b0b" stroke-width="0.9"/>
<rect x="650.00" y="273.54" width="4.00" height="15.96" fill="#f7901e"/>
<rect x="654.00" y="270.76" width="4.00" height="18.74" fill="#0b0b0b"/>
<line x1="656.00" y1="264.86" x2="656.00" y2="270.76" stroke="#0b0b0b" stroke-width="0.9"/>
<line x1="654.11" y1="264.86" x2="657.90" y2="264.86" stroke="#0b0b0b" stroke-width="0.9"/>
<rect x="661.94" y="280.48" width="4.00" height="9.02" fill="#f7901e"/>
<rect x="665.94" y="279.44" width="4.00" height="10.06" fill="#0b0b0b"/>
<line x1="667.94" y1="275.27" x2="667.94" y2="279.44" stroke="#0b0b0b" stroke-width="0.9"/>
<line x1="666.04" y1="275.27" x2="669.84" y2="275.27" stroke="#0b0b0b" stroke-width="0.9"/>
<rect x="673.87" y="283.60" width="4.00" height="5.90" fill="#f7901e"/>
<rect x="677.87" y="283.25" width="4.00" height="6.25" fill="#0b0b0b"/>
<line x1="679.87" y1="279.09" x2="679.87" y2="283.25" stroke="#0b0b0b" stroke-width="0.9"/>
<line x1="677.97" y1="279.09" x2="681.76" y2="279.09" stroke="#0b0b0b" stroke-width="0.9"/>
<line x1="552.60" y1="168.20" x2="552.60" y2="290.00" stroke="#231f20" stroke-width="1"/>
<line x1="552.10" y1="289.50" x2="684.33" y2="289.50" stroke="#231f20" stroke-width="1"/>
<line x1="552.60" y1="289.50" x2="552.60" y2="292.10" stroke="#231f20" stroke-width="1"/>
<line x1="564.53" y1="289.50" x2="564.53" y2="292.10" stroke="#231f20" stroke-width="1"/>
<line x1="576.46" y1="289.50" x2="576.46" y2="292.10" stroke="#231f20" stroke-width="1"/>
<line x1="588.39" y1="289.50" x2="588.39" y2="292.10" stroke="#231f20" stroke-width="1"/>
<line x1="600.32" y1="289.50" x2="600.32" y2="292.10" stroke="#231f20" stroke-width="1"/>
<line x1="612.25" y1="289.50" x2="612.25" y2="292.10" stroke="#231f20" stroke-width="1"/>
<line x1="624.18" y1="289.50" x2="624.18" y2="292.10" stroke="#231f20" stroke-width="1"/>
<line x1="636.11" y1="289.50" x2="636.11" y2="292.10" stroke="#231f20" stroke-width="1"/>
<line x1="648.04" y1="289.50" x2="648.04" y2="292.10" stroke="#231f20" stroke-width="1"/>
<line x1="659.97" y1="289.50" x2="659.97" y2="292.10" stroke="#231f20" stroke-width="1"/>
<line x1="671.90" y1="289.50" x2="671.90" y2="292.10" stroke="#231f20" stroke-width="1"/>
<line x1="683.83" y1="289.50" x2="683.83" y2="292.10" stroke="#231f20" stroke-width="1"/>
<line x1="549.60" y1="289.50" x2="552.60" y2="289.50" stroke="#231f20" stroke-width="1"/>
<text transform="translate(547.00,292.90) scale(1,1.07)" font-size="10" text-anchor="end" font-weight="normal" fill="#231f20" stroke="#231f20" stroke-width="0.1" >0</text>
<line x1="549.60" y1="254.80" x2="552.60" y2="254.80" stroke="#231f20" stroke-width="1"/>
<text transform="translate(547.00,258.20) scale(1,1.07)" font-size="10" text-anchor="end" font-weight="normal" fill="#231f20" stroke="#231f20" stroke-width="0.1" >10</text>
<line x1="549.60" y1="220.10" x2="552.60" y2="220.10" stroke="#231f20" stroke-width="1"/>
<text transform="translate(547.00,223.50) scale(1,1.07)" font-size="10" text-anchor="end" font-weight="normal" fill="#231f20" stroke="#231f20" stroke-width="0.1" >20</text>
<line x1="549.60" y1="185.40" x2="552.60" y2="185.40" stroke="#231f20" stroke-width="1"/>
<text transform="translate(547.00,188.80) scale(1,1.07)" font-size="10" text-anchor="end" font-weight="normal" fill="#231f20" stroke="#231f20" stroke-width="0.1" >30</text>
<text transform="translate(558.57,302.40) scale(1,1.07)" font-size="10" text-anchor="middle" font-weight="normal" fill="#231f20" stroke="#231f20" stroke-width="0.1" >0</text>
<text transform="translate(570.50,302.40) scale(1,1.07)" font-size="10" text-anchor="middle" font-weight="normal" fill="#231f20" stroke="#231f20" stroke-width="0.1" >1</text>
<text transform="translate(582.43,302.40) scale(1,1.07)" font-size="10" text-anchor="middle" font-weight="normal" fill="#231f20" stroke="#231f20" stroke-width="0.1" >2</text>
<text transform="translate(594.36,302.40) scale(1,1.07)" font-size="10" text-anchor="middle" font-weight="normal" fill="#231f20" stroke="#231f20" stroke-width="0.1" >3</text>
<text transform="translate(606.29,302.40) scale(1,1.07)" font-size="10" text-anchor="middle" font-weight="normal" fill="#231f20" stroke="#231f20" stroke-width="0.1" >4</text>
<text transform="translate(618.22,302.40) scale(1,1.07)" font-size="10" text-anchor="middle" font-weight="normal" fill="#231f20" stroke="#231f20" stroke-width="0.1" >5</text>
<text transform="translate(630.15,302.40) scale(1,1.07)" font-size="10" text-anchor="middle" font-weight="normal" fill="#231f20" stroke="#231f20" stroke-width="0.1" >6</text>
<text transform="translate(642.08,302.40) scale(1,1.07)" font-size="10" text-anchor="middle" font-weight="normal" fill="#231f20" stroke="#231f20" stroke-width="0.1" >7</text>
<text transform="translate(654.00,302.40) scale(1,1.07)" font-size="10" text-anchor="middle" font-weight="normal" fill="#231f20" stroke="#231f20" stroke-width="0.1" >8</text>
<text transform="translate(665.94,302.40) scale(1,1.07)" font-size="10" text-anchor="middle" font-weight="normal" fill="#231f20" stroke="#231f20" stroke-width="0.1" >9</text>
<text transform="translate(677.87,302.40) scale(1,1.07)" font-size="10" text-anchor="middle" font-weight="normal" fill="#231f20" stroke="#231f20" stroke-width="0.1" >10</text>
<polygon points="569.17,258.30 569.78,260.15 571.73,260.17 570.16,261.32 570.75,263.18 569.17,262.05 567.58,263.18 568.17,261.32 566.60,260.17 568.55,260.15" fill="#111"/>
<polygon points="580.27,258.30 580.88,260.15 582.83,260.17 581.26,261.32 581.85,263.18 580.27,262.05 578.68,263.18 579.27,261.32 577.70,260.17 579.65,260.15" fill="#111"/>
<rect x="557.70" y="155.00" width="6.80" height="6.70" fill="#f7901e"/>
<rect x="557.70" y="166.00" width="6.80" height="6.70" fill="#0b0b0b"/>
<text transform="translate(566.80,162.00) scale(1,1.07)" font-size="10" text-anchor="start" font-weight="normal" fill="#231f20" stroke="#231f20" stroke-width="0.1" >HLA-DRB1*0401 flu</text>
<text transform="translate(566.80,173.20) scale(1,1.07)" font-size="10" text-anchor="start" font-weight="normal" fill="#231f20" stroke="#231f20" stroke-width="0.1" >Negative control</text>
<text transform="translate(8.00,232.00) rotate(-90) scale(1,1.07)" font-size="10" text-anchor="middle" font-weight="normal" fill="#231f20" stroke="#231f20" stroke-width="0.1" >Percentage of CDR3s</text>
<text transform="translate(376.20,319.20) scale(1,1.07)" font-size="10.2" text-anchor="middle" font-weight="normal" fill="#231f20" stroke="#231f20" stroke-width="0.1" >AA differences to next closest CDR3</text>
<text transform="translate(1.00,340.60) scale(1.08,0.94)" font-size="16.5" text-anchor="start" font-weight="bold" fill="#000" >d</text>
<line x1="59.20" y1="348.00" x2="59.20" y2="467.00" stroke="#231f20" stroke-width="1"/>
<line x1="58.70" y1="466.50" x2="161.91" y2="466.50" stroke="#231f20" stroke-width="1"/>
<line x1="56.20" y1="466.50" x2="59.20" y2="466.50" stroke="#231f20" stroke-width="1"/>
<text transform="translate(53.70,469.90) scale(1,1.07)" font-size="10" text-anchor="end" font-weight="normal" fill="#231f20" stroke="#231f20" stroke-width="0.1" >1</text>
<line x1="56.20" y1="437.00" x2="59.20" y2="437.00" stroke="#231f20" stroke-width="1"/>
<text transform="translate(53.70,440.40) scale(1,1.07)" font-size="10" text-anchor="end" font-weight="normal" fill="#231f20" stroke="#231f20" stroke-width="0.1" >10</text>
<line x1="56.20" y1="407.50" x2="59.20" y2="407.50" stroke="#231f20" stroke-width="1"/>
<text transform="translate(53.70,410.90) scale(1,1.07)" font-size="10" text-anchor="end" font-weight="normal" fill="#231f20" stroke="#231f20" stroke-width="0.1" >100</text>
<line x1="56.20" y1="378.00" x2="59.20" y2="378.00" stroke="#231f20" stroke-width="1"/>
<text transform="translate(53.70,381.40) scale(1,1.07)" font-size="10" text-anchor="end" font-weight="normal" fill="#231f20" stroke="#231f20" stroke-width="0.1" >1,000</text>
<line x1="56.20" y1="348.50" x2="59.20" y2="348.50" stroke="#231f20" stroke-width="1"/>
<text transform="translate(53.70,351.90) scale(1,1.07)" font-size="10" text-anchor="end" font-weight="normal" fill="#231f20" stroke="#231f20" stroke-width="0.1" >10,000</text>
<line x1="59.20" y1="466.50" x2="59.20" y2="469.10" stroke="#231f20" stroke-width="1"/>
<text transform="translate(59.20,479.00) scale(1,1.07)" font-size="10" text-anchor="middle" font-weight="normal" fill="#231f20" stroke="#231f20" stroke-width="0.1" >1</text>
<line x1="93.27" y1="466.50" x2="93.27" y2="469.10" stroke="#231f20" stroke-width="1"/>
<text transform="translate(93.27,479.00) scale(1,1.07)" font-size="10" text-anchor="middle" font-weight="normal" fill="#231f20" stroke="#231f20" stroke-width="0.1" >10</text>
<line x1="127.34" y1="466.50" x2="127.34" y2="469.10" stroke="#231f20" stroke-width="1"/>
<text transform="translate(127.34,479.00) scale(1,1.07)" font-size="10" text-anchor="middle" font-weight="normal" fill="#231f20" stroke="#231f20" stroke-width="0.1" >100</text>
<line x1="161.41" y1="466.50" x2="161.41" y2="469.10" stroke="#231f20" stroke-width="1"/>
<text transform="translate(161.41,479.00) scale(1,1.07)" font-size="10" text-anchor="middle" font-weight="normal" fill="#231f20" stroke="#231f20" stroke-width="0.1" >1,000</text>
<text transform="translate(108.40,347.80) scale(1,1.07)" font-size="10" text-anchor="middle" font-weight="normal" fill="#231f20" stroke="#231f20" stroke-width="0.1" >HLA-A*0201 flu</text>
<circle cx="134.20" cy="373.70" r="2.65" fill="#ee6a1f" stroke="#652606" stroke-width="0.85"/>
<circle cx="141.80" cy="379.10" r="2.65" fill="#ee6a1f" stroke="#652606" stroke-width="0.85"/>
<circle cx="125.50" cy="382.00" r="2.65" fill="#ee6a1f" stroke="#652606" stroke-width="0.85"/>
<circle cx="128.30" cy="387.10" r="2.65" fill="#ee6a1f" stroke="#652606" stroke-width="0.85"/>
<circle cx="130.30" cy="389.10" r="2.65" fill="#ee6a1f" stroke="#652606" stroke-width="0.85"/>
<circle cx="105.40" cy="399.20" r="2.65" fill="#ee6a1f" stroke="#652606" stroke-width="0.85"/>
<circle cx="107.80" cy="396.80" r="2.65" fill="#ee6a1f" stroke="#652606" stroke-width="0.85"/>
<circle cx="111.40" cy="395.60" r="2.65" fill="#ee6a1f" stroke="#652606" stroke-width="0.85"/>
<circle cx="114.40" cy="396.00" r="2.65" fill="#ee6a1f" stroke="#652606" stroke-width="0.85"/>
<circle cx="97.40" cy="412.00" r="2.65" fill="#ee6a1f" stroke="#652606" stroke-width="0.85"/>
<circle cx="95.00" cy="411.70" r="2.65" fill="#ee6a1f" stroke="#652606" stroke-width="0.85"/>
<circle cx="92.60" cy="412.00" r="2.65" fill="#ee6a1f" stroke="#652606" stroke-width="0.85"/>
<circle cx="90.20" cy="411.70" r="2.65" fill="#ee6a1f" stroke="#652606" stroke-width="0.85"/>
<circle cx="89.60" cy="413.50" r="2.65" fill="#ee6a1f" stroke="#652606" stroke-width="0.85"/>
<circle cx="89.00" cy="415.60" r="2.65" fill="#ee6a1f" stroke="#652606" stroke-width="0.85"/>
<circle cx="87.20" cy="417.70" r="2.65" fill="#ee6a1f" stroke="#652606" stroke-width="0.85"/>
<circle cx="85.70" cy="420.70" r="2.65" fill="#ee6a1f" stroke="#652606" stroke-width="0.85"/>
<circle cx="82.40" cy="420.70" r="2.65" fill="#ee6a1f" stroke="#652606" stroke-width="0.85"/>
<circle cx="79.40" cy="417.40" r="2.65" fill="#ee6a1f" stroke="#652606" stroke-width="0.85"/>
<circle cx="77.90" cy="422.80" r="2.65" fill="#ee6a1f" stroke="#652606" stroke-width="0.85"/>
<circle cx="81.20" cy="425.80" r="2.65" fill="#ee6a1f" stroke="#652606" stroke-width="0.85"/>
<circle cx="93.50" cy="423.10" r="2.65" fill="#ee6a1f" stroke="#652606" stroke-width="0.85"/>
<circle cx="83.00" cy="416.80" r="2.65" fill="#ee6a1f" stroke="#652606" stroke-width="0.85"/>
<circle cx="74.40" cy="431.10" r="2.65" fill="#ee6a1f" stroke="#652606" stroke-width="0.85"/>
<circle cx="79.20" cy="433.20" r="2.65" fill="#ee6a1f" stroke="#652606" stroke-width="0.85"/>
<circle cx="82.80" cy="435.30" r="2.65" fill="#ee6a1f" stroke="#652606" stroke-width="0.85"/>
<circle cx="69.90" cy="435.90" r="2.65" fill="#ee6a1f" stroke="#652606" stroke-width="0.85"/>
<circle cx="73.20" cy="437.40" r="2.65" fill="#ee6a1f" stroke="#652606" stroke-width="0.85"/>
<circle cx="78.00" cy="436.80" r="2.65" fill="#ee6a1f" stroke="#652606" stroke-width="0.85"/>
<text transform="translate(130.00,369.20) scale(1,1.07)" font-size="10" text-anchor="start" font-weight="normal" fill="#231f20" stroke="#231f20" stroke-width="0.1" >SMRS</text>
<text transform="translate(147.40,386.00) scale(1,1.07)" font-size="10" text-anchor="start" font-weight="normal" fill="#231f20" stroke="#231f20" stroke-width="0.1" >SIRS</text>
<text transform="translate(99.40,380.40) scale(1,1.07)" font-size="10" text-anchor="start" font-weight="normal" fill="#231f20" stroke="#231f20" stroke-width="0.1" >RSAY</text>
<text transform="translate(66.90,387.10) scale(1,1.07)" font-size="10" text-anchor="start" font-weight="normal" fill="#231f20" stroke="#231f20" stroke-width="0.1" >SSRS</text>
<text transform="translate(91.60,393.80) scale(1,1.07)" font-size="10" text-anchor="start" font-weight="normal" fill="#231f20" stroke="#231f20" stroke-width="0.1" >IRS</text>
<text transform="translate(135.70,399.40) scale(1,1.07)" font-size="10" text-anchor="start" font-weight="normal" fill="#231f20" stroke="#231f20" stroke-width="0.1" >STRS</text>
<text transform="translate(63.50,399.20) scale(1,1.07)" font-size="10" text-anchor="start" font-weight="normal" fill="#231f20" stroke="#231f20" stroke-width="0.1" >RST</text>
<text transform="translate(80.60,405.60) scale(1,1.07)" font-size="10" text-anchor="start" font-weight="normal" fill="#231f20" stroke="#231f20" stroke-width="0.1" >SIR</text>
<text transform="translate(60.40,413.20) scale(1,1.07)" font-size="10" text-anchor="start" font-weight="normal" fill="#231f20" stroke="#231f20" stroke-width="0.1" >RSS</text>
<text transform="translate(107.10,412.00) scale(1,1.07)" font-size="10" text-anchor="start" font-weight="normal" fill="#231f20" stroke="#231f20" stroke-width="0.1" >MRS</text>
<text transform="translate(129.40,411.00) scale(1,1.07)" font-size="10" text-anchor="start" font-weight="normal" fill="#231f20" stroke="#231f20" stroke-width="0.1" >IRSA</text>
<text transform="translate(122.20,423.20) scale(1,1.07)" font-size="10" text-anchor="start" font-weight="normal" fill="#231f20" stroke="#231f20" stroke-width="0.1" >SMR</text>
<text transform="translate(106.60,432.80) scale(1,1.07)" font-size="10" text-anchor="start" font-weight="normal" fill="#231f20" stroke="#231f20" stroke-width="0.1" >RSA</text>
<text transform="translate(86.40,436.40) scale(1,1.07)" font-size="10" text-anchor="start" font-weight="normal" fill="#231f20" stroke="#231f20" stroke-width="0.1" >TRS</text>
<text transform="translate(92.90,445.00) scale(1,1.07)" font-size="10" text-anchor="start" font-weight="normal" fill="#231f20" stroke="#231f20" stroke-width="0.1" >RSSY</text>
<text transform="translate(122.20,462.0) scale(1,1.07)" font-size="10" fill="#231f20" stroke="#231f20" stroke-width="0.1"><tspan font-style="italic">r</tspan> = 0.881</text>
<line x1="221.90" y1="348.40" x2="221.90" y2="467.00" stroke="#231f20" stroke-width="1"/>
<line x1="221.40" y1="466.50" x2="330.40" y2="466.50" stroke="#231f20" stroke-width="1"/>
<line x1="218.90" y1="466.50" x2="221.90" y2="466.50" stroke="#231f20" stroke-width="1"/>
<text transform="translate(216.40,469.90) scale(1,1.07)" font-size="10" text-anchor="end" font-weight="normal" fill="#231f20" stroke="#231f20" stroke-width="0.1" >1</text>
<line x1="218.90" y1="427.30" x2="221.90" y2="427.30" stroke="#231f20" stroke-width="1"/>
<text transform="translate(216.40,430.70) scale(1,1.07)" font-size="10" text-anchor="end" font-weight="normal" fill="#231f20" stroke="#231f20" stroke-width="0.1" >10</text>
<line x1="218.90" y1="388.10" x2="221.90" y2="388.10" stroke="#231f20" stroke-width="1"/>
<text transform="translate(216.40,391.50) scale(1,1.07)" font-size="10" text-anchor="end" font-weight="normal" fill="#231f20" stroke="#231f20" stroke-width="0.1" >100</text>
<line x1="218.90" y1="348.90" x2="221.90" y2="348.90" stroke="#231f20" stroke-width="1"/>
<text transform="translate(216.40,352.30) scale(1,1.07)" font-size="10" text-anchor="end" font-weight="normal" fill="#231f20" stroke="#231f20" stroke-width="0.1" >1,000</text>
<line x1="221.90" y1="466.50" x2="221.90" y2="469.10" stroke="#231f20" stroke-width="1"/>
<text transform="translate(221.90,479.00) scale(1,1.07)" font-size="10" text-anchor="middle" font-weight="normal" fill="#231f20" stroke="#231f20" stroke-width="0.1" >1</text>
<line x1="257.90" y1="466.50" x2="257.90" y2="469.10" stroke="#231f20" stroke-width="1"/>
<text transform="translate(257.90,479.00) scale(1,1.07)" font-size="10" text-anchor="middle" font-weight="normal" fill="#231f20" stroke="#231f20" stroke-width="0.1" >10</text>
<line x1="293.90" y1="466.50" x2="293.90" y2="469.10" stroke="#231f20" stroke-width="1"/>
<text transform="translate(293.90,479.00) scale(1,1.07)" font-size="10" text-anchor="middle" font-weight="normal" fill="#231f20" stroke="#231f20" stroke-width="0.1" >100</text>
<line x1="329.90" y1="466.50" x2="329.90" y2="469.10" stroke="#231f20" stroke-width="1"/>
<text transform="translate(329.90,479.00) scale(1,1.07)" font-size="10" text-anchor="middle" font-weight="normal" fill="#231f20" stroke="#231f20" stroke-width="0.1" >1,000</text>
<text transform="translate(280.00,347.80) scale(1,1.07)" font-size="10" text-anchor="middle" font-weight="normal" fill="#231f20" stroke="#231f20" stroke-width="0.1" >HLA-A*0201 EBV</text>
<circle cx="317.90" cy="374.60" r="2.65" fill="#ee6a1f" stroke="#652606" stroke-width="0.85"/>
<circle cx="284.10" cy="385.50" r="2.65" fill="#ee6a1f" stroke="#652606" stroke-width="0.85"/>
<circle cx="304.40" cy="394.60" r="2.65" fill="#ee6a1f" stroke="#652606" stroke-width="0.85"/>
<circle cx="274.00" cy="399.00" r="2.65" fill="#ee6a1f" stroke="#652606" stroke-width="0.85"/>
<circle cx="295.30" cy="403.70" r="2.65" fill="#ee6a1f" stroke="#652606" stroke-width="0.85"/>
<circle cx="273.20" cy="408.10" r="2.65" fill="#ee6a1f" stroke="#652606" stroke-width="0.85"/>
<circle cx="255.50" cy="414.60" r="2.65" fill="#ee6a1f" stroke="#652606" stroke-width="0.85"/>
<circle cx="265.90" cy="418.00" r="2.65" fill="#ee6a1f" stroke="#652606" stroke-width="0.85"/>
<circle cx="268.00" cy="421.90" r="2.65" fill="#ee6a1f" stroke="#652606" stroke-width="0.85"/>
<circle cx="269.30" cy="424.50" r="2.65" fill="#ee6a1f" stroke="#652606" stroke-width="0.85"/>
<circle cx="281.50" cy="421.40" r="2.65" fill="#ee6a1f" stroke="#652606" stroke-width="0.85"/>
<circle cx="265.90" cy="428.40" r="2.65" fill="#ee6a1f" stroke="#652606" stroke-width="0.85"/>
<circle cx="268.80" cy="428.40" r="2.65" fill="#ee6a1f" stroke="#652606" stroke-width="0.85"/>
<circle cx="249.30" cy="428.90" r="2.65" fill="#ee6a1f" stroke="#652606" stroke-width="0.85"/>
<circle cx="255.00" cy="428.90" r="2.65" fill="#ee6a1f" stroke="#652606" stroke-width="0.85"/>
<circle cx="258.10" cy="430.20" r="2.65" fill="#ee6a1f" stroke="#652606" stroke-width="0.85"/>
<circle cx="251.10" cy="432.30" r="2.65" fill="#ee6a1f" stroke="#652606" stroke-width="0.85"/>
<circle cx="242.80" cy="435.70" r="2.65" fill="#ee6a1f" stroke="#652606" stroke-width="0.85"/>
<circle cx="249.30" cy="441.40" r="2.65" fill="#ee6a1f" stroke="#652606" stroke-width="0.85"/>
<circle cx="249.30" cy="445.30" r="2.65" fill="#ee6a1f" stroke="#652606" stroke-width="0.85"/>
<circle cx="249.80" cy="447.40" r="2.65" fill="#ee6a1f" stroke="#652606" stroke-width="0.85"/>
<circle cx="244.60" cy="444.80" r="2.65" fill="#ee6a1f" stroke="#652606" stroke-width="0.85"/>
<circle cx="241.50" cy="449.20" r="2.65" fill="#ee6a1f" stroke="#652606" stroke-width="0.85"/>
<circle cx="233.70" cy="452.30" r="2.65" fill="#ee6a1f" stroke="#652606" stroke-width="0.85"/>
<text transform="translate(308.30,370.50) scale(1,1.07)" font-size="10" text-anchor="start" font-weight="normal" fill="#231f20" stroke="#231f20" stroke-width="0.1" >QSPG</text>
<text transform="translate(272.70,380.40) scale(1,1.07)" font-size="10" text-anchor="start" font-weight="normal" fill="#231f20" stroke="#231f20" stroke-width="0.1" >VAPG</text>
<text transform="translate(310.90,397.80) scale(1,1.07)" font-size="10" text-anchor="start" font-weight="normal" fill="#231f20" stroke="#231f20" stroke-width="0.1" >SQSP</text>
<text transform="translate(243.80,398.30) scale(1,1.07)" font-size="10" text-anchor="start" font-weight="normal" fill="#231f20" stroke="#231f20" stroke-width="0.1" >TGNG</text>
<text transform="translate(241.50,410.30) scale(1,1.07)" font-size="10" text-anchor="start" font-weight="normal" fill="#231f20" stroke="#231f20" stroke-width="0.1" >VGNT</text>
<text transform="translate(298.70,414.70) scale(1,1.07)" font-size="10" text-anchor="start" font-weight="normal" fill="#231f20" stroke="#231f20" stroke-width="0.1" >QSP</text>
<text transform="translate(225.10,428.50) scale(1,1.07)" font-size="10" text-anchor="start" font-weight="normal" fill="#231f20" stroke="#231f20" stroke-width="0.1" >VGN</text>
<text transform="translate(280.50,434.20) scale(1,1.07)" font-size="10" text-anchor="start" font-weight="normal" fill="#231f20" stroke="#231f20" stroke-width="0.1" >PGGT</text>
<text transform="translate(258.10,443.80) scale(1,1.07)" font-size="10" text-anchor="start" font-weight="normal" fill="#231f20" stroke="#231f20" stroke-width="0.1" >GVGN</text>
<text transform="translate(252.30,456.80) scale(1,1.07)" font-size="10" text-anchor="start" font-weight="normal" fill="#231f20" stroke="#231f20" stroke-width="0.1" >GNG</text>
<text transform="translate(290.10,462.0) scale(1,1.07)" font-size="10" fill="#231f20" stroke="#231f20" stroke-width="0.1"><tspan font-style="italic">r</tspan> = 0.898</text>
<line x1="392.80" y1="348.20" x2="392.80" y2="467.00" stroke="#231f20" stroke-width="1"/>
<line x1="392.30" y1="466.50" x2="502.10" y2="466.50" stroke="#231f20" stroke-width="1"/>
<line x1="389.80" y1="466.50" x2="392.80" y2="466.50" stroke="#231f20" stroke-width="1"/>
<text transform="translate(387.30,469.90) scale(1,1.07)" font-size="10" text-anchor="end" font-weight="normal" fill="#231f20" stroke="#231f20" stroke-width="0.1" >1</text>
<line x1="389.80" y1="407.60" x2="392.80" y2="407.60" stroke="#231f20" stroke-width="1"/>
<text transform="translate(387.30,411.00) scale(1,1.07)" font-size="10" text-anchor="end" font-weight="normal" fill="#231f20" stroke="#231f20" stroke-width="0.1" >10</text>
<line x1="389.80" y1="348.70" x2="392.80" y2="348.70" stroke="#231f20" stroke-width="1"/>
<text transform="translate(387.30,352.10) scale(1,1.07)" font-size="10" text-anchor="end" font-weight="normal" fill="#231f20" stroke="#231f20" stroke-width="0.1" >100</text>
<line x1="392.80" y1="466.50" x2="392.80" y2="469.10" stroke="#231f20" stroke-width="1"/>
<text transform="translate(392.80,479.00) scale(1,1.07)" font-size="10" text-anchor="middle" font-weight="normal" fill="#231f20" stroke="#231f20" stroke-width="0.1" >1</text>
<line x1="447.20" y1="466.50" x2="447.20" y2="469.10" stroke="#231f20" stroke-width="1"/>
<text transform="translate(447.20,479.00) scale(1,1.07)" font-size="10" text-anchor="middle" font-weight="normal" fill="#231f20" stroke="#231f20" stroke-width="0.1" >10</text>
<line x1="501.60" y1="466.50" x2="501.60" y2="469.10" stroke="#231f20" stroke-width="1"/>
<text transform="translate(501.60,479.00) scale(1,1.07)" font-size="10" text-anchor="middle" font-weight="normal" fill="#231f20" stroke="#231f20" stroke-width="0.1" >100</text>
<text transform="translate(452.00,347.80) scale(1,1.07)" font-size="10" text-anchor="middle" font-weight="normal" fill="#231f20" stroke="#231f20" stroke-width="0.1" >HLA-A*0201 CMV</text>
<circle cx="470.20" cy="398.80" r="2.65" fill="#ee6a1f" stroke="#652606" stroke-width="0.85"/>
<circle cx="442.80" cy="410.80" r="2.65" fill="#ee6a1f" stroke="#652606" stroke-width="0.85"/>
<circle cx="461.80" cy="409.10" r="2.65" fill="#ee6a1f" stroke="#652606" stroke-width="0.85"/>
<circle cx="454.50" cy="412.20" r="2.65" fill="#ee6a1f" stroke="#652606" stroke-width="0.85"/>
<circle cx="433.50" cy="417.50" r="2.65" fill="#ee6a1f" stroke="#652606" stroke-width="0.85"/>
<text transform="translate(461.00,393.80) scale(1,1.07)" font-size="10" text-anchor="start" font-weight="normal" fill="#231f20" stroke="#231f20" stroke-width="0.1" >QTG</text>
<text transform="translate(437.20,405.00) scale(1,1.07)" font-size="10" text-anchor="start" font-weight="normal" fill="#231f20" stroke="#231f20" stroke-width="0.1" >ATN</text>
<text transform="translate(408.60,420.90) scale(1,1.07)" font-size="10" text-anchor="start" font-weight="normal" fill="#231f20" stroke="#231f20" stroke-width="0.1" >TGT</text>
<text transform="translate(444.20,426.00) scale(1,1.07)" font-size="10" text-anchor="start" font-weight="normal" fill="#231f20" stroke="#231f20" stroke-width="0.1" >FQ</text>
<text transform="translate(466.60,421.80) scale(1,1.07)" font-size="10" text-anchor="start" font-weight="normal" fill="#231f20" stroke="#231f20" stroke-width="0.1" >SSA</text>
<text transform="translate(463.80,462.0) scale(1,1.07)" font-size="10" fill="#231f20" stroke="#231f20" stroke-width="0.1"><tspan font-style="italic">r</tspan> = 0.917</text>
<line x1="553.90" y1="348.20" x2="553.90" y2="467.00" stroke="#231f20" stroke-width="1"/>
<line x1="553.40" y1="466.50" x2="663.10" y2="466.50" stroke="#231f20" stroke-width="1"/>
<line x1="550.90" y1="466.50" x2="553.90" y2="466.50" stroke="#231f20" stroke-width="1"/>
<text transform="translate(548.40,469.90) scale(1,1.07)" font-size="10" text-anchor="end" font-weight="normal" fill="#231f20" stroke="#231f20" stroke-width="0.1" >1</text>
<line x1="550.90" y1="407.60" x2="553.90" y2="407.60" stroke="#231f20" stroke-width="1"/>
<text transform="translate(548.40,411.00) scale(1,1.07)" font-size="10" text-anchor="end" font-weight="normal" fill="#231f20" stroke="#231f20" stroke-width="0.1" >10</text>
<line x1="550.90" y1="348.70" x2="553.90" y2="348.70" stroke="#231f20" stroke-width="1"/>
<text transform="translate(548.40,352.10) scale(1,1.07)" font-size="10" text-anchor="end" font-weight="normal" fill="#231f20" stroke="#231f20" stroke-width="0.1" >100</text>
<line x1="553.90" y1="466.50" x2="553.90" y2="469.10" stroke="#231f20" stroke-width="1"/>
<text transform="translate(553.90,479.00) scale(1,1.07)" font-size="10" text-anchor="middle" font-weight="normal" fill="#231f20" stroke="#231f20" stroke-width="0.1" >1</text>
<line x1="608.25" y1="466.50" x2="608.25" y2="469.10" stroke="#231f20" stroke-width="1"/>
<text transform="translate(608.25,479.00) scale(1,1.07)" font-size="10" text-anchor="middle" font-weight="normal" fill="#231f20" stroke="#231f20" stroke-width="0.1" >10</text>
<line x1="662.60" y1="466.50" x2="662.60" y2="469.10" stroke="#231f20" stroke-width="1"/>
<text transform="translate(662.60,479.00) scale(1,1.07)" font-size="10" text-anchor="middle" font-weight="normal" fill="#231f20" stroke="#231f20" stroke-width="0.1" >100</text>
<text transform="translate(613.00,347.80) scale(1,1.07)" font-size="10" text-anchor="middle" font-weight="normal" fill="#231f20" stroke="#231f20" stroke-width="0.1" >HLA-DRB1*0401 flu</text>
<circle cx="613.10" cy="387.60" r="2.65" fill="#ee6a1f" stroke="#652606" stroke-width="0.85"/>
<circle cx="573.90" cy="415.60" r="2.65" fill="#ee6a1f" stroke="#652606" stroke-width="0.85"/>
<circle cx="573.40" cy="428.40" r="2.65" fill="#ee6a1f" stroke="#652606" stroke-width="0.85"/>
<circle cx="581.20" cy="432.90" r="2.65" fill="#ee6a1f" stroke="#652606" stroke-width="0.85"/>
<text transform="translate(598.60,382.00) scale(1,1.07)" font-size="10" text-anchor="start" font-weight="normal" fill="#231f20" stroke="#231f20" stroke-width="0.1" >SSSG</text>
<text transform="translate(562.70,410.60) scale(1,1.07)" font-size="10" text-anchor="start" font-weight="normal" fill="#231f20" stroke="#231f20" stroke-width="0.1" >GGG</text>
<text transform="translate(556.60,441.90) scale(1,1.07)" font-size="10" text-anchor="start" font-weight="normal" fill="#231f20" stroke="#231f20" stroke-width="0.1" >SPG</text>
<text transform="translate(586.00,437.20) scale(1,1.07)" font-size="10" text-anchor="start" font-weight="normal" fill="#231f20" stroke="#231f20" stroke-width="0.1" >SSG</text>
<text transform="translate(621.70,462.0) scale(1,1.07)" font-size="10" fill="#231f20" stroke="#231f20" stroke-width="0.1"><tspan font-style="italic">r</tspan> = 0.972</text>
<text transform="translate(9.00,410.30) rotate(-90) scale(1,1.07)" font-size="10.2" text-anchor="middle" font-weight="normal" fill="#231f20" stroke="#231f20" stroke-width="0.1" >Rep B motif fold enrichment</text>
<text transform="translate(364.40,497.00) scale(1,1.07)" font-size="10.2" text-anchor="middle" font-weight="normal" fill="#231f20" stroke="#231f20" stroke-width="0.1" >Rep A motif fold enrichment</text>
</svg>
</body></html>
